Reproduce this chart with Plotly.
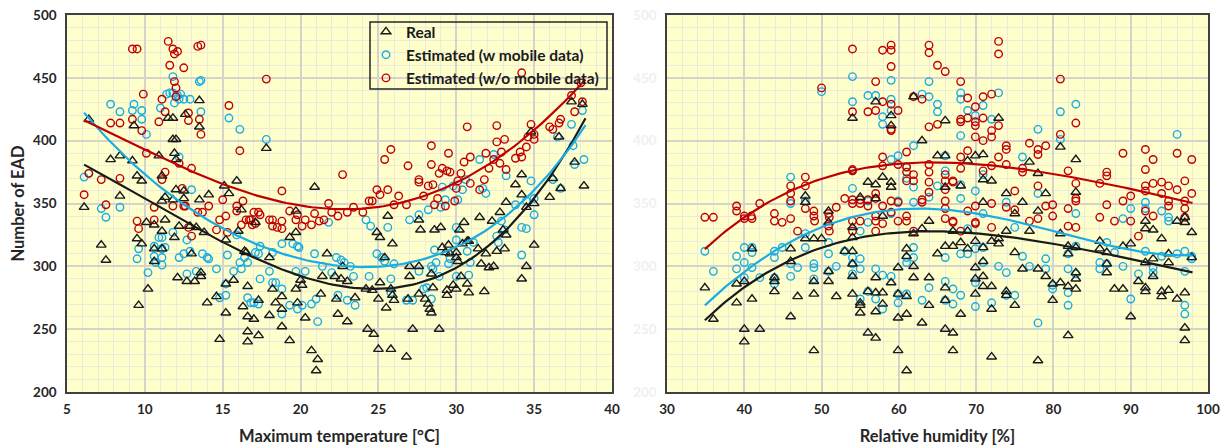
import numpy as np
import plotly.graph_objects as go

# ---------------- Left panel: Maximum temperature ----------------
temp_real_x = [6.1, 6.4, 7.2, 7.5, 7.8, 8.4, 8.4, 9.2, 9.3, 9.5, 9.5, 9.6, 9.8, 9.8, 10.1, 10.2, 10.6, 10.6, 10.6,
               10.9, 11.1, 11.1, 11.1, 11.1, 11.3, 11.3, 11.5, 11.8, 11.8, 12.0, 11.9, 12.0, 12.0, 11.8, 11.9, 12.1,
               12.2, 12.5, 12.5, 12.6, 12.7, 12.9, 13.0, 13.2, 13.3, 13.5, 13.5, 13.5, 13.6, 13.6, 13.8, 14.0, 14.1,
               14.6, 14.8, 15.1, 15.2, 15.2, 15.2, 15.4, 15.7, 15.9, 16.0, 16.2, 16.4, 16.5, 16.3, 16.6, 16.6, 16.6,
               16.6, 17.0, 17.1, 17.3, 17.3, 17.8, 18.0, 18.0, 18.2, 18.4, 18.8, 18.8, 18.8, 19.3, 19.3, 19.7, 19.7,
               19.7, 19.8, 20.0, 20.1, 20.3, 20.7, 20.9, 21.0, 21.1, 21.3, 21.4, 21.7, 22.2, 22.3, 22.4, 22.6, 22.7,
               23.0, 23.0, 23.5, 24.2, 24.3, 24.7, 24.6, 24.9, 25.1, 25.0, 25.1, 25.0, 25.4, 25.5, 25.6, 25.9, 25.8,
               25.9, 26.0, 25.8, 26.8, 27.0, 27.0, 26.9, 27.2, 27.6, 27.7, 27.6, 27.6, 28.0, 28.2, 28.3, 28.4, 28.4,
               28.6, 28.5, 28.9, 29.0, 29.1, 29.3, 29.4, 29.4, 29.5, 29.6, 29.8, 30.0, 30.0, 30.1, 30.0, 30.2, 30.5,
               30.3, 30.4, 30.7, 30.8, 30.7, 30.8, 31.4, 31.5, 31.6, 31.8, 31.9, 32.1, 32.4, 32.3, 32.6, 32.8, 33.0,
               33.1, 33.2, 33.2, 33.8, 34.2, 34.2, 34.2, 34.5, 34.5, 34.8, 35.0, 35.0, 36.0, 36.2, 36.6, 36.7, 37.4,
               37.6, 38.1, 38.2]
temp_real_y = [347, 417, 317, 305, 385, 388, 356, 384, 412, 372, 322, 269, 368, 318, 335, 282, 333, 314, 304,
               388, 372, 352, 328, 314, 355, 337, 418, 418, 401, 401, 390, 385, 361, 353, 323, 291,
               332, 360, 354, 421, 288, 332, 310, 288, 331, 432, 411, 353, 292, 295, 327, 271, 357,
               276, 242, 364, 321, 286, 263, 358, 289, 368, 328, 345, 312, 311, 268, 284, 260, 248,
               240, 258, 335, 273, 245, 394, 307, 261, 282, 271, 252, 276, 266, 323, 241, 344, 327,
               282, 271, 289, 285, 259, 233, 363, 217, 226, 278, 292, 310, 292, 274, 262, 290, 300,
               288, 256, 275, 282, 250, 246, 281, 327, 323, 274, 287, 234, 307, 267, 340, 318, 282,
               277, 273, 234, 228, 300, 292, 274, 250, 337, 329, 278, 300, 274, 270, 266, 263, 294,
               329, 283, 250, 331, 315, 311, 281, 277, 317, 310, 285, 311, 307, 304, 282, 329, 335,
               292, 318, 320, 320, 286, 279, 314, 339, 302, 280, 310, 299, 300, 336, 312, 343, 329,
               314, 325, 351, 365, 373, 357, 290, 347, 300, 407, 350, 317, 355, 370, 403, 362, 431,
               383, 429, 364]

temp_w_x = [6.1, 6.4, 7.2, 7.5, 7.8, 8.4, 8.4, 9.3, 9.2, 9.8, 9.8, 10.1, 9.5, 9.6, 10.2, 10.6, 10.6, 10.7, 10.9,
            11.0, 11.1, 11.1, 11.1, 11.1, 11.3, 11.4, 11.6, 11.8, 11.8, 12.1, 12.2, 12.3, 12.5, 12.9, 11.9, 12.2,
            11.8, 12.2, 12.5, 12.7, 12.7, 13.0, 12.9, 13.3, 13.5, 13.6, 13.6, 13.7, 14.0, 14.1, 14.6, 14.8, 15.2,
            15.2, 15.3, 15.4, 15.7, 15.9, 16.1, 16.1, 16.2, 16.4, 16.6, 16.6, 16.8, 17.0, 17.1, 17.3, 17.4, 17.4,
            17.3, 17.8, 18.0, 18.2, 18.2, 18.4, 18.8, 18.8, 18.8, 19.3, 19.5, 19.7, 19.8, 19.8, 19.9, 20.1, 20.3,
            20.7, 20.9, 21.0, 21.1, 21.4, 21.8, 22.0, 22.3, 22.4, 22.6, 22.8, 23.2, 23.0, 23.4, 23.5, 24.2, 24.4,
            24.5, 24.9, 25.2, 25.4, 25.6, 25.8, 25.8, 26.0, 26.8, 27.0, 27.2, 27.6, 27.6, 27.9, 28.1, 28.2, 28.4,
            28.5, 28.4, 28.6, 28.7, 28.9, 29.0, 29.1, 29.3, 29.5, 29.6, 29.8, 30.0, 30.0, 30.0, 30.1, 30.4, 30.6,
            30.7, 30.8, 30.9, 31.1, 31.5, 31.7, 31.9, 32.4, 32.6, 32.7, 32.9, 33.1, 33.2, 33.8, 34.2, 34.2, 34.5,
            34.5, 34.8, 35.0, 35.0, 36.2, 36.7, 36.5, 37.4, 37.5, 37.6, 38.1, 38.2]
temp_w_y = [371, 374, 346, 339, 429, 423, 347, 429, 424, 424, 417, 405, 306, 314, 295, 316, 308, 303, 323,
            426, 323, 314, 307, 301, 315, 437, 438, 438, 451, 436, 433, 437, 433, 433, 430, 387,
            327, 307, 310, 321, 294, 361, 312, 296, 447, 448, 423, 310, 307, 306, 298, 275, 277,
            286, 309, 418, 296, 325, 409, 303, 298, 307, 303, 275, 271, 271, 311, 310, 316, 290,
            270, 401, 296, 311, 287, 287, 318, 282, 262, 269, 318, 296, 266, 316, 315, 269, 296,
            270, 310, 274, 256, 300, 335, 295, 307, 277, 305, 303, 300, 273, 292, 269, 337, 292,
            332, 310, 307, 304, 331, 290, 279, 302, 273, 337, 273, 341, 296, 282, 283, 345, 300,
            298, 274, 313, 303, 292, 347, 363, 353, 302, 306, 364, 321, 331, 292, 353, 361, 369,
            312, 293, 303, 319, 385, 362, 358, 389, 324, 319, 336, 329, 372, 349, 331, 309, 330,
            352, 368, 341, 354, 369, 362, 403, 413, 396, 381, 424, 385]

temp_wo_x = [6.1, 6.4, 7.2, 7.5, 7.8, 8.4, 8.4, 9.2, 9.5, 9.2, 9.5, 9.6, 9.8, 9.9, 10.1, 10.6, 10.6, 10.9, 11.1,
             11.1, 11.3, 11.3, 11.5, 11.6, 11.8, 11.9, 11.9, 12.0, 12.1, 12.0, 12.2, 11.8, 12.4, 12.5, 12.5, 12.6,
             12.8, 12.8, 13.0, 12.8, 13.0, 13.4, 13.6, 13.5, 13.6, 13.4, 13.7, 14.1, 14.6, 14.8, 15.0, 15.2, 15.4,
             15.3, 15.9, 15.9, 16.1, 16.2, 16.3, 16.5, 16.7, 16.8, 17.0, 17.3, 17.4, 17.1, 16.9, 17.8, 18.0, 18.2,
             18.2, 18.5, 18.8, 18.8, 18.8, 19.3, 19.7, 19.8, 20.1, 20.3, 20.7, 20.9, 21.2, 21.5, 21.8, 22.0, 22.4,
             22.7, 23.0, 23.4, 24.0, 24.4, 24.6, 24.9, 25.1, 25.4, 25.6, 25.8, 26.0, 26.3, 26.9, 26.8, 27.6, 27.6,
             27.9, 28.4, 28.4, 28.2, 28.5, 28.6, 28.8, 28.9, 29.1, 29.4, 29.6, 29.5, 29.3, 29.9, 30.0, 30.1, 30.3,
             30.5, 30.7, 30.9, 30.9, 31.5, 31.8, 31.9, 32.1, 32.4, 32.6, 32.6, 32.8, 32.9, 33.1, 33.2, 33.8, 34.1,
             34.2, 34.5, 34.6, 34.8, 35.0, 35.0, 36.0, 36.2, 36.6, 36.7, 37.4, 37.6, 38.0, 38.1, 34.2]
temp_wo_y = [357, 374, 369, 349, 414, 414, 370, 473, 473, 417, 336, 330, 408, 437, 390, 347, 337, 415, 433,
             369, 375, 423, 479, 460, 473, 447, 469, 442, 471, 435, 382, 348, 362, 458, 348, 348,
             422, 416, 378, 331, 324, 475, 476, 417, 405, 343, 343, 348, 329, 337, 353, 340, 428,
             327, 344, 348, 392, 333, 352, 337, 337, 337, 343, 343, 341, 334, 333, 449, 337, 337,
             332, 331, 360, 336, 330, 344, 337, 341, 332, 337, 333, 342, 336, 337, 350, 343, 340,
             373, 343, 347, 343, 352, 352, 361, 357, 385, 361, 393, 349, 356, 380, 349, 369, 367,
             356, 396, 381, 364, 365, 349, 354, 374, 378, 376, 375, 390, 348, 352, 362, 368, 374,
             383, 411, 387, 366, 361, 369, 390, 378, 385, 412, 399, 382, 391, 401, 377, 386, 391,
             387, 395, 403, 413, 405, 401, 411, 409, 414, 417, 436, 423, 446, 431, 454]

# trend curves
temp_fit_real_x = [6.1, 8.0, 10.0, 12.6, 15.2, 17.9, 20.1, 22.1, 24.0, 26.0, 28.3, 30.0, 32.6, 34.7, 36.9, 38.3]
temp_fit_real_y = [382, 367, 353, 335, 319, 304, 292, 285, 281.5, 281, 289.5, 299, 324, 350.5, 385, 419]
temp_fit_w_x = [6.1, 9.15, 11.3, 13.0, 15.2, 17.9, 20.1, 22.1, 24.0, 26.0, 28.3, 30.0, 32.6, 34.7, 36.9, 38.3]
temp_fit_w_y = [420.6, 386, 360, 345, 327, 313.5, 305.6, 300.5, 299.5, 301.6, 308, 317.5, 334.7, 353, 387.5, 414]
temp_fit_wo_x = [6.1, 10.0, 13.0, 16.0, 19.2, 22.1, 26.2, 28.3, 30.45, 32.6, 34.7, 36.9, 38.3]
temp_fit_wo_y = [416.7, 391.5, 377, 360, 350.5, 347, 349, 357, 369, 385, 406, 432.5, 447]

# ---------------- Right panel: Relative humidity ----------------
rh_real_x = [34.9, 36.0, 39.0, 39.0, 40.0, 40.0, 40.0, 41.0, 41.0, 42.0, 43.9, 43.9, 43.9, 46.0, 46.0, 46.0, 46.9,
             47.9, 47.9, 47.9, 49.0, 49.0, 49.0, 49.0, 50.0, 50.9, 50.9, 50.9, 50.9, 51.9, 53.0,
             54.0, 54.0, 54.0, 54.0, 54.0, 54.0, 54.0, 55.0, 55.0, 55.0, 55.0, 56.0, 56.0, 56.0,
             57.0, 57.0, 57.0, 57.0, 57.0, 57.0, 57.0, 57.9, 57.9, 57.9, 57.9, 59.0, 59.0, 59.0, 59.0, 59.0,
             59.9, 59.9, 59.9, 59.9, 61.0, 61.0, 61.0, 61.0, 61.0, 61.9, 61.9, 61.9, 61.9, 63.0, 63.0, 63.0,
             63.9, 63.9, 63.9, 65.0, 65.0, 66.0, 66.0, 66.0, 66.0, 66.0, 66.0, 66.0, 67.0, 67.0, 67.0, 67.0,
             68.0, 68.0, 68.0, 68.9, 68.9, 68.9, 69.9, 69.9, 69.9, 69.9, 69.9, 70.9, 70.9, 70.9, 70.9, 70.9,
             70.9, 70.9, 72.0, 72.0, 72.0, 72.0, 72.0, 72.9, 72.9, 72.9, 73.9, 73.9, 73.9, 73.9, 75.0, 75.0,
             75.0, 76.0, 76.0, 76.9, 76.9, 78.0, 78.0, 78.0, 78.0, 79.0, 79.0, 79.9, 79.9, 80.9, 80.9, 80.9,
             81.9, 81.9, 81.9, 81.9, 82.9, 82.9, 82.9, 82.9, 82.9, 82.9, 86.0, 86.0, 86.9, 86.9, 86.9, 87.9,
             89.0, 89.0, 90.0, 90.0, 91.0, 91.9, 91.9, 91.9, 91.9, 91.9, 92.9, 92.9, 92.9, 94.0, 94.0, 94.0,
             94.9, 94.9, 94.9, 96.0, 96.0, 97.0, 97.0, 97.0, 97.0, 97.0, 97.9, 97.9]
rh_real_y = [283, 258, 286, 271, 288, 250, 240, 314, 274, 250, 291, 288, 280, 314, 304, 260, 276,
             356, 351, 322, 322, 288, 278, 233, 322, 344, 335, 296, 288, 276, 312,
             418, 331, 323, 312, 302, 292, 278, 355, 271, 269, 263, 367, 280, 247,
             431, 365, 354, 291, 279, 264, 243, 371, 340, 279, 270, 420, 412, 367, 363, 287,
             299, 278, 259, 233, 314, 308, 276, 262, 217, 435, 326, 300, 291, 400, 330, 255,
             336, 291, 269, 388, 310, 416, 388, 363, 316, 283, 273, 250, 328, 316, 247, 233,
             319, 262, 364, 384, 328, 314, 388, 320, 299, 290, 278, 389, 369, 351, 315, 304,
             292, 284, 368, 320, 284, 266, 228, 418, 322, 318, 358, 328, 280, 277, 342, 311,
             269, 351, 298, 383, 328, 374, 344, 298, 225, 358, 292, 286, 273, 395, 287, 326,
             316, 310, 284, 245, 385, 359, 315, 295, 290, 282, 320, 314, 311, 302, 295, 282,
             282, 316, 318, 260, 288, 336, 330, 303, 283, 280, 329, 306, 292, 322, 280, 276,
             310, 303, 281, 336, 274, 339, 335, 279, 251, 241, 327, 307]

rh_w_x = [34.9, 36.0, 39.0, 39.0, 40.0, 40.0, 40.0, 41.0, 41.0, 41.0, 42.0, 43.9, 43.9, 43.9, 43.9, 44.9,
          46.0, 46.0, 46.0, 46.0, 46.9, 47.9, 47.9, 47.9, 49.0, 49.0, 49.0, 50.0, 50.9, 50.9, 50.9, 51.9, 53.0,
          54.0, 54.0, 54.0, 54.0, 54.0, 54.0, 54.0, 55.0, 55.0, 55.0, 55.0, 56.0, 56.0, 56.0, 56.0,
          57.0, 57.0, 57.0, 57.9, 57.9, 57.9, 57.9, 59.0, 59.0, 59.0, 59.0, 59.0, 59.0, 59.9, 59.9, 59.9, 59.9,
          61.0, 61.0, 61.0, 61.0, 61.0, 61.9, 61.9, 61.9, 61.9, 61.9, 63.0, 63.0, 63.9, 63.9, 63.9, 63.9,
          65.0, 65.0, 65.0, 66.0, 66.0, 66.0, 66.0, 66.0, 67.0, 67.0, 68.0, 68.0, 68.0, 68.0, 68.0, 68.0, 68.0,
          68.9, 68.9, 68.9, 69.9, 69.9, 69.9, 69.9, 69.9, 70.9, 70.9, 70.9, 70.9, 70.9, 72.0, 72.0, 72.9, 72.9,
          73.9, 73.9, 73.9, 75.0, 75.0, 76.0, 76.0, 76.9, 78.0, 78.0, 78.0, 79.0, 79.0, 79.9, 79.9, 80.9, 80.9,
          81.9, 81.9, 81.9, 81.9, 82.9, 82.9, 82.9, 82.9, 86.0, 86.0, 86.9, 86.9, 87.9, 89.0, 89.0, 90.0, 90.0,
          91.0, 91.9, 91.9, 91.9, 92.9, 92.9, 94.0, 94.0, 94.9, 94.9, 96.0, 96.0, 97.0, 97.0, 97.0, 97.0,
          97.9, 97.9]
rh_w_y = [312, 296, 308, 298, 315, 303, 291, 315, 311, 299, 291, 312, 307, 291, 286, 315,
          371, 350, 302, 292, 299, 352, 326, 315, 302, 299, 290, 439, 319, 310, 296, 300, 312,
          451, 431, 376, 362, 307, 302, 294, 328, 306, 298, 274, 436, 335, 280, 352,
          436, 298, 274, 419, 413, 293, 266, 448, 433, 424, 385, 342, 292, 388, 352, 278, 271,
          379, 370, 307, 303, 278, 396, 363, 351, 315, 307, 437, 273, 447, 435, 355, 283,
          429, 423, 364, 388, 376, 307, 288, 273, 282, 270, 438, 433, 404, 365, 354, 310, 277,
          424, 330, 310, 420, 360, 314, 287, 268, 428, 373, 342, 303, 315, 417, 271, 438, 300,
          351, 295, 277, 331, 277, 387, 308, 300, 409, 358, 255, 306, 298, 285, 282, 423, 401,
          310, 298, 279, 269, 429, 342, 316, 294, 303, 298, 319, 302, 311, 338, 300, 346, 274,
          294, 351, 346, 312, 299, 295, 344, 308, 339, 336, 405, 310, 312, 296, 269, 262,
          308, 306]

rh_wo_x = [34.9, 36.0, 39.0, 39.0, 40.0, 40.0, 40.9, 41.0, 42.0, 43.9, 43.9, 44.9, 46.0, 46.0, 46.0, 46.0, 46.9,
           47.9, 47.9, 47.9, 49.0, 49.0, 49.1, 50.0, 50.9, 51.0, 50.9, 51.0, 51.9, 53.0,
           54.0, 54.0, 54.0, 54.0, 54.0, 54.0, 54.0, 54.0, 55.0, 55.0, 55.0, 56.0, 56.0, 56.0,
           57.0, 57.0, 57.0, 57.0, 57.0, 57.0, 57.0, 57.9, 57.9, 57.9, 57.9, 57.9, 57.9,
           59.0, 59.0, 59.0, 59.0, 59.0, 59.0, 59.0, 59.0, 59.9, 59.9, 59.9, 59.9,
           61.0, 61.0, 61.0, 61.0, 61.0, 61.0, 61.9, 61.9, 61.9, 61.9, 63.0, 63.0, 63.0,
           63.9, 63.9, 63.9, 63.9, 63.9, 63.9, 63.9, 65.0, 65.0, 66.0, 66.0, 66.0, 66.0, 66.0, 66.0, 66.0,
           67.0, 67.0, 67.0, 67.0, 68.0, 68.0, 68.0, 68.0, 68.0, 68.0, 68.9, 68.9, 68.9, 68.9,
           69.9, 69.9, 69.9, 69.9, 69.9, 69.9, 69.9, 70.9, 70.9, 70.9, 70.9,
           72.0, 72.0, 72.0, 72.0, 72.0, 72.0, 72.9, 72.9, 72.9, 72.9, 73.9, 73.9, 73.9, 73.9, 75.0, 75.0,
           76.0, 76.0, 76.9, 76.9, 78.0, 78.0, 78.0, 78.0, 79.0, 79.0, 79.9, 79.9, 80.9, 80.9,
           81.9, 81.9, 81.9, 82.9, 82.9, 82.9, 82.9, 82.9, 86.0, 86.0, 86.9, 86.9, 86.9, 87.9,
           89.0, 89.0, 90.0, 90.0, 91.0, 91.9, 91.9, 91.9, 91.9, 91.9, 92.9, 92.9, 92.9, 94.0, 94.0,
           94.9, 94.9, 94.9, 96.0, 96.0, 97.0, 97.0, 97.0, 97.0, 97.9, 97.9]
rh_wo_y = [339, 339, 348, 344, 340, 338, 340, 338, 350, 342, 336, 335, 364, 358, 352, 338, 328,
           371, 364, 346, 344, 340, 336, 442, 342, 339, 332, 328, 347, 354,
           473, 423, 377, 376, 353, 350, 336, 328, 353, 350, 336, 423, 353, 348,
           447, 424, 358, 354, 340, 336, 328, 472, 431, 387, 380, 348, 334,
           476, 472, 459, 429, 409, 408, 352, 343, 424, 381, 351, 336,
           391, 379, 375, 368, 340, 336, 435, 373, 368, 328, 433, 353, 351,
           476, 470, 411, 381, 375, 367, 359, 460, 413, 455, 373, 368, 361, 352, 346, 338,
           368, 367, 336, 335, 447, 417, 415, 387, 378, 328, 434, 418, 392, 344,
           427, 415, 412, 403, 348, 335, 334, 435, 418, 400, 376,
           437, 408, 403, 380, 350, 331, 479, 469, 412, 387, 396, 393, 381, 347, 360, 345,
           378, 375, 398, 336, 393, 389, 364, 338, 396, 348, 349, 340, 449, 405,
           376, 346, 332, 414, 366, 354, 352, 331, 366, 339, 375, 372, 349, 336,
           390, 352, 356, 336, 324, 393, 377, 364, 360, 344, 385, 366, 340, 367, 358,
           364, 352, 348, 390, 361, 368, 352, 346, 339, 385, 358]

rh_fit_x = [34.9, 41.4, 47.85, 54.3, 59.9, 64.0, 70.0, 74.8, 80.0, 85.6, 90.0, 94.2, 98.0]
rh_fit_real_y = [257, 289, 310.4, 322.3, 326.8, 326.8, 326.3, 323.6, 318.4, 311.7, 305, 300, 295.6]
rh_fit_w_y = [269, 302.6, 323.6, 341, 345.4, 345.7, 343, 335.7, 326.5, 318.6, 314.6, 309.8, 308]
rh_fit_wo_y = [313.5, 345, 365, 377, 381, 382, 381.5, 379.5, 374, 366, 362, 355.5, 350.7]

y_ticks = [200, 250, 300, 350, 400, 450, 500]
temp_ticks = [5, 10, 15, 20, 25, 30, 35, 40]
rh_ticks = [30, 40, 50, 60, 70, 80, 90, 100]

series_names = ["Real", "Estimated (w mobile data)", "Estimated (w/o mobile data)"]

# ---------------- styles ----------------
BLACK = "#1a1a1a"
BLUE = "#1AADE4"
RED = "#C00000"
BG = "#FFFFCC"
FONT = "Lato"

fig = go.Figure()


def add_scatter(x, y, name, color, symbol, size, xa, ya, show, rank):
    fig.add_trace(go.Scatter(
        x=x, y=y, mode="markers", name=name, xaxis=xa, yaxis=ya,
        marker=dict(symbol=symbol, size=size, color=color, line=dict(color=color, width=1.4)),
        showlegend=show, legendrank=rank, legendgroup=name))


def add_trend(x, y, color, xa, ya, deg=4):
    # smooth polynomial trendline through the points
    c = np.polyfit(x, y, deg)
    xx = np.linspace(min(x), max(x), 120)
    fig.add_trace(go.Scatter(
        x=xx, y=np.polyval(c, xx), mode="lines", line=dict(color=color, width=2.2),
        xaxis=xa, yaxis=ya, showlegend=False, hoverinfo="skip"))


# Left panel
add_scatter(temp_w_x, temp_w_y, series_names[1], BLUE, "circle-open", 7.5, "x", "y", True, 2)
add_scatter(temp_wo_x, temp_wo_y, series_names[2], RED, "circle-open", 7.5, "x", "y", True, 3)
add_scatter(temp_real_x, temp_real_y, series_names[0], BLACK, "triangle-up-open", 8.5, "x", "y", True, 1)
add_trend(temp_fit_real_x, temp_fit_real_y, BLACK, "x", "y")
add_trend(temp_fit_w_x, temp_fit_w_y, BLUE, "x", "y")
add_trend(temp_fit_wo_x, temp_fit_wo_y, RED, "x", "y")

# Right panel
add_scatter(rh_w_x, rh_w_y, series_names[1], BLUE, "circle-open", 7.5, "x2", "y2", False, 2)
add_scatter(rh_wo_x, rh_wo_y, series_names[2], RED, "circle-open", 7.5, "x2", "y2", False, 3)
add_scatter(rh_real_x, rh_real_y, series_names[0], BLACK, "triangle-up-open", 8.5, "x2", "y2", False, 1)
add_trend(rh_fit_x, rh_fit_real_y, BLACK, "x2", "y2")
add_trend(rh_fit_x, rh_fit_w_y, BLUE, "x2", "y2")
add_trend(rh_fit_x, rh_fit_wo_y, RED, "x2", "y2")

# page body has an 8px margin, so the figure is 8px smaller and shifted
OFF = 8
W, H = 1228 - OFF, 448 - OFF


def px(v):
    return (v - OFF) / W


def py(v):
    return 1 - (v - OFF) / H


ydom = [py(392), py(15)]

axis_common = dict(
    showline=True, mirror=True, linecolor="#404040", linewidth=1.5,
    gridcolor="#d4d4cc", gridwidth=1.5, zeroline=False, ticks="",
    automargin=False, ticklabeloverflow="allow",
)
tick_font = dict(family=FONT, size=13.5, color="#262626", weight="bold")
title_font = dict(family=FONT, size=16.5, weight="bold", color="#262626")

fig.update_layout(
    width=W, height=H,
    margin=dict(l=0, r=0, t=0, b=0),
    paper_bgcolor="white", plot_bgcolor=BG,
    font=dict(family=FONT, color="#262626"),
    xaxis=dict(domain=[px(67), px(612)], range=[5, 40], tickvals=temp_ticks,
               minor=dict(dtick=1, showgrid=True, gridcolor="#ebebdc", gridwidth=1),
               title=dict(text="Maximum temperature [°C]", font=title_font, standoff=14),
               ticklabelstandoff=4, anchor="y", tickfont=tick_font, **axis_common),
    yaxis=dict(domain=ydom, range=[200, 500], tickvals=y_ticks,
               minor=dict(dtick=10, showgrid=True, gridcolor="#ebebdc", gridwidth=1),
               title=dict(text="Number of EAD", font=title_font, standoff=10),
               ticklabelstandoff=6, anchor="x", tickfont=tick_font, **axis_common),
    xaxis2=dict(domain=[px(667), px(1208)], range=[30, 100], tickvals=rh_ticks,
                minor=dict(dtick=2, showgrid=True, gridcolor="#ebebdc", gridwidth=1),
                title=dict(text="Relative humidity [%]", font=title_font, standoff=14),
                ticklabelstandoff=4, anchor="y2", tickfont=tick_font, **axis_common),
    yaxis2=dict(domain=ydom, range=[200, 500], tickvals=y_ticks,
                minor=dict(dtick=10, showgrid=True, gridcolor="#ebebdc", gridwidth=1),
                ticklabelstandoff=6, anchor="x2",
                tickfont=dict(family=FONT, size=13.5, color="#f0f0f0", weight="bold"), **axis_common),
    legend=dict(x=px(366), y=py(15), xanchor="left", yanchor="top",
                bgcolor="rgba(0,0,0,0)", borderwidth=0,
                font=dict(family=FONT, size=15.5, color="#1a1a1a", weight="bold"),
                tracegroupgap=0, itemwidth=30),
    shapes=[dict(type="rect", xref="paper", yref="paper",
                 x0=px(370), x1=px(607), y0=py(89), y1=py(22),
                 line=dict(color="#262626", width=1.5), fillcolor="rgba(0,0,0,0)", layer="above")],
    showlegend=True,
)

fig.write_html("out.html")
